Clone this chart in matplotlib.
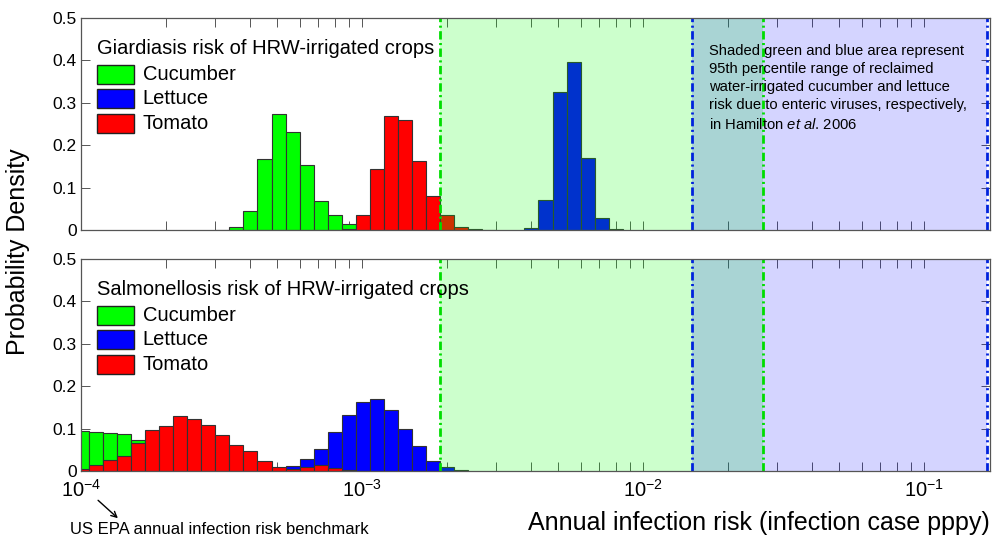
import numpy as np
import matplotlib.pyplot as plt
from matplotlib.patches import Rectangle

plt.rcParams['font.family'] = ['Liberation Sans', 'DejaVu Sans']
plt.rcParams['mathtext.fontset'] = 'custom'
plt.rcParams['mathtext.rm'] = 'Liberation Sans'
plt.rcParams['mathtext.it'] = 'Liberation Sans:italic'
plt.rcParams['lines.scale_dashes'] = False

# histogram bins, equal width in log10 (first edge, width in decades)
bin_start = -4.022
bin_width = 0.05

# Giardiasis (top): first bin index + densities
giar_cuc_k0 = 10
giar_cuc = [0.001, 0.008, 0.045, 0.167, 0.274, 0.231, 0.153, 0.069, 0.035, 0.014]
giar_let_k0 = 32
giar_let = [0.004, 0.071, 0.326, 0.397, 0.169, 0.029, 0.002]
giar_tom_k0 = 19
giar_tom = [0.002, 0.035, 0.144, 0.270, 0.260, 0.163, 0.081, 0.035, 0.008, 0.003, 0.001]

# Salmonellosis (bottom)
salm_cuc_k0 = 0
salm_cuc = [0.095, 0.093, 0.090, 0.087, 0.072, 0.050, 0.030, 0.015, 0.006]
salm_let_k0 = 14
salm_let = [0.002, 0.011, 0.028, 0.051, 0.091, 0.133, 0.162, 0.170, 0.144, 0.099,
            0.059, 0.024, 0.009, 0.002]
salm_tom_k0 = 0
salm_tom = [0.005, 0.014, 0.027, 0.036, 0.065, 0.097, 0.105, 0.130, 0.123, 0.108,
            0.084, 0.061, 0.046, 0.024, 0.010, 0.005, 0.010, 0.013, 0.006, 0.002, 0.001]

# Hamilton et al. 2006 95th percentile ranges
cuc_range = (0.0019, 0.0267)
let_range = (0.0150, 0.167)
epa_benchmark = 1e-4

xmax = 0.1718
crops = ["Cucumber", "Lettuce", "Tomato"]
colors = ["#00ff00", "#0000ff", "#ff0000"]
spine_col = "#555555"


def draw_hist(ax, k0, vals, color, z):
    k = k0 + np.arange(len(vals))
    left = 10 ** (bin_start + bin_width * k)
    right = 10 ** (bin_start + bin_width * (k + 1))
    ax.bar(left, vals, width=right - left, align='edge', color=color,
           edgecolor="#333333", linewidth=0.8, zorder=z)


def draw_legend(ax, title):
    ax.text(0.0176, 0.855, title, transform=ax.transAxes, fontsize=14.5,
            va='center', ha='left', zorder=10)
    for i, (name, c) in enumerate(zip(crops, colors)):
        yc = 0.735 - i * 0.1155
        ax.add_patch(Rectangle((0.0176, yc - 0.045), 0.0407, 0.09, transform=ax.transAxes,
                               facecolor=c, edgecolor="#222222", lw=1.0, zorder=10))
        ax.text(0.068, yc, name, transform=ax.transAxes, fontsize=14.5,
                va='center', ha='left', zorder=10)


fig = plt.figure(figsize=(9.93, 5.37), dpi=100)
ax1 = fig.add_axes([0.0816, 0.5717, 0.9154, 0.3948])
ax2 = fig.add_axes([0.0816, 0.1229, 0.9154, 0.3948])

data = [
    (ax1, [(giar_cuc_k0, giar_cuc), (giar_let_k0, giar_let), (giar_tom_k0, giar_tom)],
     "Giardiasis risk of HRW-irrigated crops"),
    (ax2, [(salm_cuc_k0, salm_cuc), (salm_let_k0, salm_let), (salm_tom_k0, salm_tom)],
     "Salmonellosis risk of HRW-irrigated crops"),
]

for ax, series, title in data:
    ax.set_xscale('log')
    for i, (k0, vals) in enumerate(series):
        draw_hist(ax, k0, vals, colors[i], 2 + i)
    ax.axvspan(cuc_range[0], cuc_range[1], color=(0, 1, 0), alpha=0.2, lw=0, zorder=5)
    ax.axvspan(let_range[0], let_range[1], color=(0, 0, 1), alpha=0.17, lw=0, zorder=5)
    for xv, c in [(cuc_range[0], "#00dd00"), (cuc_range[1], "#00dd00"),
                  (let_range[0], "#0022dd"), (let_range[1], "#0022dd")]:
        ax.axvline(xv, color=c, lw=2, dashes=(6, 2.5, 1.5, 2.5), zorder=6)
    ax.set_xlim(epa_benchmark, xmax)
    ax.set_ylim(0, 0.5)
    ax.set_yticks([0, 0.1, 0.2, 0.3, 0.4, 0.5])
    ax.set_yticklabels(["0", "0.1", "0.2", "0.3", "0.4", "0.5"])
    ax.set_xticks([1e-4, 1e-3, 1e-2, 1e-1])
    ax.tick_params(which='both', direction='in', top=True, right=True, length=6.5,
                   width=0.7, color=spine_col, labelsize=12.5)
    ax.tick_params(axis='x', pad=6, labelsize=14.5)
    ax.tick_params(axis='y', pad=3)
    for s in ax.spines.values():
        s.set_color(spine_col)
        s.set_linewidth(0.9)
        s.set_zorder(8)
    draw_legend(ax, title)

ax1.tick_params(axis='x', labelbottom=False)

ax1.text(0.691, 0.875,
         "Shaded green and blue area represent\n95th percentile range of reclaimed\n"
         "water-irrigated cucumber and lettuce\nrisk due to enteric viruses, respectively,\n"
         r"in Hamilton $\mathit{et\ al}$. 2006",
         transform=ax1.transAxes, fontsize=10.6, va='top', ha='left', linespacing=1.36,
         zorder=10)

fig.text(0.018, 0.531, "Probability Density", rotation=90, fontsize=18,
         ha='center', va='center')
fig.text(0.997, 0.013, "Annual infection risk (infection case pppy)", fontsize=18,
         ha='right', va='baseline')
fig.text(0.0705, 0.0047, "US EPA annual infection risk benchmark", fontsize=12,
         ha='left', va='baseline')
ax2.annotate("", xy=(0.1208, 0.0315), xytext=(0.0967, 0.0718),
             xycoords='figure fraction', textcoords='figure fraction',
             arrowprops=dict(arrowstyle='->', color='black', lw=1.0))

fig.savefig("out.png", dpi=100)
